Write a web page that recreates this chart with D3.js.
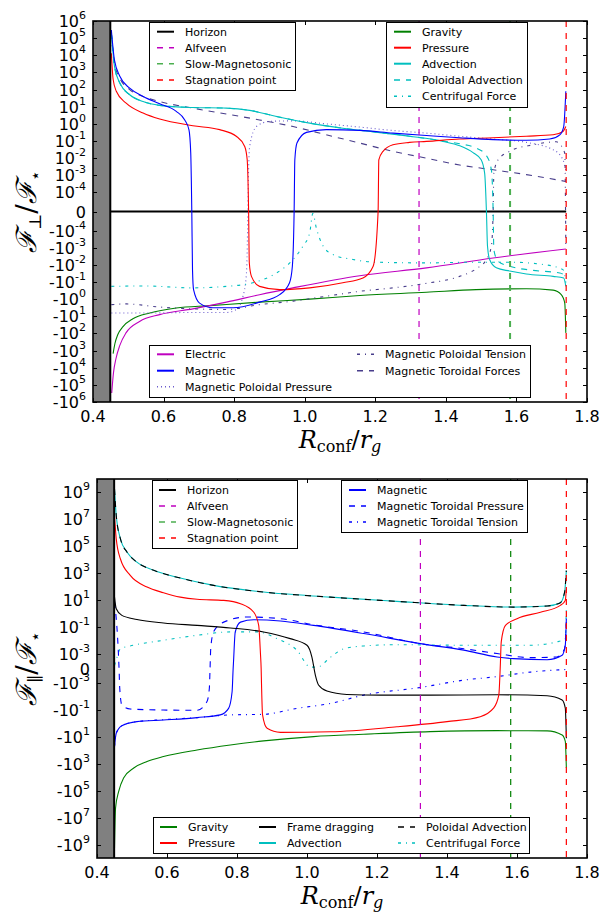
<!DOCTYPE html>
<html>
<head>
<meta charset="utf-8">
<script src="https://cdn.jsdelivr.net/npm/d3@7/dist/d3.min.js"></script>
<style>
  body { margin: 0; background: #fff; }
  svg { display: block; font-family: "DejaVu Sans", sans-serif; }
</style>
</head>
<body>
<svg id="chart" width="605" height="915"></svg>
<script>
const svg = d3.select("#chart");

// ----- Data -----
const xTicks = [0.4, 0.6, 0.8, 1.0, 1.2, 1.4, 1.6, 1.8];
const perpTicks = [1e6, 1e5, 1e4, 1e3, 1e2, 1e1, 1e0, 1e-1, 1e-2, 1e-3, 1e-4, 0,
  -1e-4, -1e-3, -1e-2, -1e-1, -1e0, -1e1, -1e2, -1e3, -1e4, -1e5, -1e6];
const parTicks = [1e9, 1e7, 1e5, 1e3, 1e1, 1e-1, 1e-3, 0, -1e-3, -1e-1, -1e1, -1e3, -1e5, -1e7, -1e9];

const horizonR = 0.449;
const alfvenR = 1.324;
const slowR = 1.582;
const stagnationR = 1.741;

// top panel: perpendicular forces  [R_conf/r_g, F/F*]
const perpZero = [[0.449, 0], [1.741, 0]];
const perpMagnetic = [[0.452, 3e5], [0.461, 5e3], [0.476, 6e2], [0.504, 120], [0.542, 40], [0.589, 15],
  [0.636, 5.4], [0.660, 1.7], [0.672, 0.45], [0.677, 0.02], [0.680, 0], [0.682, -0.019], [0.685, -0.28],
  [0.702, -1.7], [0.740, -3.2], [0.797, -3.2], [0.872, -1.5], [0.929, -0.55], [0.957, -0.11], [0.965, -0.012],
  [0.970, 0], [0.972, 8e-3], [0.978, 0.076], [1.005, 0.32], [1.061, 0.46], [1.156, 0.42], [1.250, 0.29],
  [1.345, 0.21], [1.439, 0.155], [1.534, 0.12], [1.628, 0.11], [1.694, 0.13], [1.723, 0.23], [1.734, 0.7], [1.740, 80]];
const perpPressure = [[0.452, 1.3e4], [0.457, 400], [0.466, 80], [0.494, 16], [0.542, 4.3], [0.589, 1.9],
  [0.683, 0.78], [0.759, 0.46], [0.806, 0.19], [0.830, 0.048], [0.837, 8e-3], [0.841, 0], [0.843, -7.8e-3],
  [0.849, -0.047], [0.872, -0.18], [0.929, -0.28], [1.014, -0.22], [1.108, -0.11], [1.165, -0.058], [1.194, -0.012],
  [1.208, 0], [1.210, 8e-3], [1.222, 0.025], [1.250, 0.06], [1.297, 0.083], [1.345, 0.095], [1.439, 0.13],
  [1.534, 0.155], [1.628, 0.19], [1.704, 0.23], [1.732, 0.36], [1.740, 0.7]];
const perpAdvection = [[0.452, 2e5], [0.461, 2.2e3], [0.476, 240], [0.504, 50], [0.542, 20], [0.589, 12],
  [0.683, 9], [0.778, 8.3], [0.844, 6.1], [0.920, 2.7], [1.014, 1.1], [1.108, 0.56], [1.203, 0.33], [1.297, 0.19],
  [1.392, 0.095], [1.439, 0.053], [1.477, 0.021], [1.500, 8e-3], [1.510, 1.3e-3], [1.515, 0], [1.518, -8e-4],
  [1.524, -4.9e-3], [1.543, -0.015], [1.581, -0.023], [1.628, -0.034], [1.704, -0.047], [1.734, -0.058], [1.740, -0.18]];
const perpPolAdvection = [[0.452, 2e5], [0.461, 2.2e3], [0.476, 240], [0.504, 50], [0.542, 20], [0.589, 12],
  [0.683, 9], [0.778, 8.3], [0.844, 6.1], [0.920, 2.7], [1.014, 1.1], [1.108, 0.56], [1.203, 0.33], [1.297, 0.19],
  [1.392, 0.1], [1.439, 0.069], [1.486, 0.039], [1.515, 0.014], [1.529, 2.1e-3], [1.534, 0], [1.536, -1.3e-3],
  [1.548, -6.2e-3], [1.581, -0.012], [1.647, -0.021], [1.723, -0.03], [1.740, -0.043]];
const perpCentrifugal = [[0.452, -0.18], [0.542, -0.17], [0.683, -0.22], [0.778, -0.18], [0.853, -0.11],
  [0.920, -0.03], [0.967, -4.9e-3], [0.995, -8e-4], [1.014, -1.4e-4], [1.023, -1e-5], [1.033, -8.7e-5],
  [1.052, -8e-4], [1.080, -2.5e-3], [1.137, -4.9e-3], [1.203, -7e-3], [1.345, -7.7e-3], [1.486, -7e-3],
  [1.581, -7e-3], [1.675, -9.5e-3], [1.732, -0.019], [1.740, -0.11]];
const perpGravity = [[0.457, -1.5e3], [0.462, -400], [0.470, -120], [0.485, -40], [0.513, -14], [0.561, -6.4],
  [0.636, -3.3], [0.731, -2.4], [0.872, -1.5], [1.014, -1.0], [1.156, -0.62], [1.345, -0.40], [1.486, -0.28],
  [1.628, -0.25], [1.704, -0.3], [1.727, -0.55], [1.737, -1.7], [1.740, -93]];
const perpElectric = [[0.453, -3e5], [0.458, -2e4], [0.465, -3e3], [0.476, -500], [0.494, -90], [0.532, -20],
  [0.589, -8], [0.683, -3.7], [0.778, -1.5], [0.872, -0.55], [0.967, -0.22], [1.156, -0.043], [1.345, -0.015],
  [1.534, -4e-3], [1.740, -1.2e-3]];
const perpPolPressure = [[0.452, -6.5], [0.542, -6.5], [0.683, -6], [0.778, -6], [0.806, -4.1], [0.825, -0.7],
  [0.835, -0.03], [0.838, -1.3e-4], [0.839, 0], [0.840, 2.2e-4], [0.844, 0.048], [0.863, 0.7], [0.901, 1.4],
  [0.967, 1.5], [1.061, 1.0], [1.156, 0.65], [1.250, 0.41], [1.345, 0.29], [1.439, 0.19], [1.534, 0.13],
  [1.628, 0.083], [1.704, 0.031], [1.732, 8e-3], [1.740, 2e-3]];
const perpPolTension = [[0.452, -2.1], [0.494, -1.9], [0.589, -2.9], [0.683, -3.7], [0.778, -4], [0.872, -2.1],
  [0.967, -1.3], [1.061, -0.68], [1.156, -0.35], [1.250, -0.22], [1.345, -0.12], [1.439, -0.047], [1.486, -0.017],
  [1.515, -4.9e-3], [1.529, -8e-4], [1.534, 0], [1.536, 1.3e-3], [1.548, 8e-3], [1.581, 0.025], [1.647, 0.06],
  [1.713, 0.09], [1.737, 0.02], [1.740, -1e-3]];
const perpToroidal = [[0.452, 2e5], [0.461, 3.2e3], [0.476, 460], [0.504, 100], [0.542, 40], [0.589, 20],
  [0.683, 8.3], [0.872, 1.7], [0.967, 0.7], [1.061, 0.23], [1.156, 0.076], [1.250, 0.025], [1.345, 0.01],
  [1.439, 4e-3], [1.534, 2.1e-3], [1.628, 1.1e-3], [1.740, 4.4e-4]];

// bottom panel: parallel forces
const parAdvection = [[0.450, 1.8e9], [0.455, 1.9e7], [0.467, 3.5e5], [0.486, 3.5e4], [0.514, 6.4e3],
  [0.562, 1.6e3], [0.638, 420], [0.733, 120], [0.876, 38], [1.067, 16], [1.257, 7.7], [1.448, 3.9],
  [1.590, 2.9], [1.686, 3.5], [1.724, 6.2], [1.736, 38], [1.741, 1.5e3]];
const parPolAdvection = [[0.450, 1.8e9], [0.455, 1.9e7], [0.467, 3.5e5], [0.486, 3.5e4], [0.514, 6.4e3],
  [0.562, 1.6e3], [0.638, 420], [0.733, 120], [0.876, 38], [1.067, 16], [1.257, 7.7], [1.448, 3.9],
  [1.590, 2.9], [1.686, 3.5], [1.724, 6.2], [1.736, 38], [1.741, 1.5e3]];
const parPressure = [[0.450, 1.9e7], [0.455, 3.5e5], [0.467, 1.1e4], [0.495, 660], [0.543, 90], [0.590, 34],
  [0.638, 16], [0.686, 11], [0.762, 9.1], [0.810, 5.2], [0.848, 1.2], [0.862, 0.125], [0.867, 1e-3], [0.869, 0],
  [0.870, -1e-3], [0.873, -0.22], [0.886, -2.2], [0.924, -4.4], [1.067, -4], [1.257, -1.7], [1.400, -0.7],
  [1.495, -0.3], [1.533, -0.07], [1.548, -7.4e-3], [1.552, 0], [1.555, 7.4e-3], [1.567, 0.125], [1.600, 0.4],
  [1.667, 1.2], [1.724, 3.9], [1.738, 9.1], [1.741, 68]];
const parFrameDragging = [[0.450, 16], [0.455, 2.2], [0.471, 0.7], [0.514, 0.35], [0.590, 0.19], [0.686, 0.125],
  [0.781, 0.081], [0.876, 0.041], [0.952, 0.013], [1.000, 4.2e-3], [1.014, 7.7e-4], [1.024, -4.6e-4],
  [1.033, -1.3e-3], [1.057, -3.7e-3], [1.114, -6.6e-3], [1.210, -7.4e-3], [1.352, -7.4e-3], [1.543, -7e-3],
  [1.686, -8.3e-3], [1.729, -0.017], [1.738, -0.07], [1.741, -12]];
const parCentrifugal = [[0.450, 2e-4], [0.457, 7.5e-4], [0.467, 2.3e-3], [0.495, 3.7e-3], [0.590, 9.8e-3],
  [0.686, 0.023], [0.781, 0.041], [0.857, 0.041], [0.914, 0.013], [0.971, 1.8e-3], [1.010, 9e-5], [1.029, 9e-5],
  [1.067, 7.5e-4], [1.105, 2.3e-3], [1.162, 3.7e-3], [1.257, 4.6e-3], [1.448, 4.2e-3], [1.638, 4.2e-3],
  [1.714, 7.4e-3], [1.738, 0.013], [1.741, 2.2]];
const parMagnetic = [[0.450, -50], [0.455, -5.1], [0.471, -1.4], [0.514, -0.7], [0.590, -0.53], [0.686, -0.35],
  [0.752, -0.22], [0.776, -0.072], [0.786, -4.2e-3], [0.789, 0], [0.790, 4.3e-4], [0.795, 0.041], [0.810, 0.22],
  [0.848, 0.33], [0.924, 0.27], [1.019, 0.125], [1.162, 0.031], [1.324, 5.5e-3], [1.448, 1.8e-3], [1.543, 7.7e-4],
  [1.590, 6.6e-4], [1.686, 5.9e-4], [1.729, 8.9e-4], [1.738, 4.2e-3], [1.741, 0.4]];
const parTorPressure = [[0.450, 6.9], [0.455, 0.4], [0.461, 1.3e-3], [0.463, 0], [0.465, -2.3e-3], [0.471, -0.041],
  [0.495, -0.081], [0.590, -0.096], [0.686, -0.1], [0.714, -0.023], [0.721, -2.3e-3], [0.723, 0], [0.725, 2.4e-3],
  [0.733, 0.041], [0.762, 0.22], [0.829, 0.53], [0.924, 0.4], [1.019, 0.14], [1.162, 0.041], [1.324, 5.5e-3],
  [1.448, 2.3e-3], [1.543, 1e-3], [1.638, 7.3e-4], [1.714, 7.7e-4], [1.736, 2.3e-3], [1.741, 0.22]];
const parTorTension = [[0.450, -50], [0.455, -5.1], [0.471, -1.4], [0.514, -0.7], [0.590, -0.5], [0.686, -0.35],
  [0.781, -0.22], [0.876, -0.2], [0.971, -0.072], [1.067, -0.031], [1.162, -7.4e-3], [1.324, -2e-3],
  [1.448, -7.8e-4], [1.543, -5.4e-4], [1.638, -2.4e-4], [1.741, -6.5e-5]];
const parGravity = [[0.450, -1.8e9], [0.453, -1.9e6], [0.462, -1.1e5], [0.476, -1.1e4], [0.505, -2e3],
  [0.543, -660], [0.590, -280], [0.686, -90], [0.781, -38], [0.876, -19], [1.019, -9.1], [1.162, -6.1],
  [1.352, -3.9], [1.543, -3.3], [1.686, -3.4], [1.729, -6.9], [1.738, -21], [1.741, -2e3]];

// ----- Styles -----
const DASH = "6,6", DASHDOT = "3,5,1,5", DOT = "1,3";
const st = {
  horizon:   { color: "#000000", dash: null, lw: 2 },
  alfven:    { color: "#bf00bf", dash: DASH, lw: 1.2 },
  slow:      { color: "#008000", dash: DASH, lw: 1.2 },
  stag:      { color: "#ff0000", dash: DASH, lw: 1.2 },
  gravity:   { color: "#008000", dash: null, lw: 1.1 },
  pressure:  { color: "#ff0000", dash: null, lw: 1.1 },
  advection: { color: "#00bfbf", dash: null, lw: 1.1 },
  polAdvC:   { color: "#00bfbf", dash: DASH, lw: 1.1 },
  polAdvK:   { color: "#000000", dash: DASH, lw: 1.1 },
  centrif:   { color: "#00bfbf", dash: DASHDOT, lw: 1.1 },
  electric:  { color: "#bf00bf", dash: null, lw: 1.1 },
  magnetic:  { color: "#0000ff", dash: null, lw: 1.1 },
  polPress:  { color: "#6a5acd", dash: DOT, lw: 1.1 },
  polTens:   { color: "#483d8b", dash: DASHDOT, lw: 1.1 },
  torForce:  { color: "#483d8b", dash: DASH, lw: 1.1 },
  torPress:  { color: "#0000ff", dash: DASH, lw: 1.1 },
  torTens:   { color: "#0000ff", dash: DASHDOT, lw: 1.1 },
  frame:     { color: "#000000", dash: null, lw: 1.1 },
  zero:      { color: "#000000", dash: null, lw: 2 }
};

// ----- Helpers -----
function symlog(c) {
  // matplotlib-like symlog, linscale = 1
  const L = 1 / (1 - 0.1);
  return v => {
    const a = Math.abs(v);
    return a <= c ? v / c * L : Math.sign(v) * (L + Math.log10(a / c));
  };
}

function tickText(sel, v) {
  if (v === 0) { sel.text("0"); return; }
  const e = Math.round(Math.log10(Math.abs(v)));
  sel.append("tspan").text((v < 0 ? "-" : "") + "10");
  sel.append("tspan").attr("dy", -8).attr("font-size", 11).text(e);
}

function applyStyle(sel, s, lw) {
  sel.attr("fill", "none")
    .attr("stroke", s.color)
    .attr("stroke-width", lw || s.lw)
    .attr("stroke-dasharray", s.dash);
}

function drawLegend(box, cols, rows, entries) {
  const g = svg.append("g");
  g.append("rect")
    .attr("x", box[0]).attr("y", box[1])
    .attr("width", box[2] - box[0]).attr("height", box[3] - box[1])
    .attr("fill", "#fff").attr("stroke", "#000").attr("stroke-width", 1);
  entries.forEach(e => {
    const c = cols[e.col], y = rows[e.row];
    g.append("line")
      .attr("x1", c).attr("x2", c + 17).attr("y1", y).attr("y2", y)
      .call(applyStyle, e.style, e.style.dash ? 1.5 : 2);
    g.append("text")
      .attr("x", c + 28).attr("y", y + 4)
      .attr("font-size", 11).attr("fill", "#000")
      .text(e.label);
  });
}

function drawPanel(p) {
  const g = svg.append("g");
  const x = d3.scaleLinear().domain([0.4, 1.8]).range([p.left, p.right]);
  const T = symlog(p.linthresh);
  const yl = d3.scaleLinear().domain([T(-p.ymax), T(p.ymax)]).range([p.bottom, p.top]);
  const y = v => yl(T(v));

  g.append("clipPath").attr("id", p.id)
    .append("rect")
    .attr("x", p.left).attr("y", p.top)
    .attr("width", p.right - p.left).attr("height", p.bottom - p.top);
  const plot = g.append("g").attr("clip-path", `url(#${p.id})`);

  // region inside the horizon
  plot.append("rect")
    .attr("x", x(0.4)).attr("y", p.top)
    .attr("width", x(horizonR) - x(0.4)).attr("height", p.bottom - p.top)
    .attr("fill", "#808080");

  const line = d3.line().x(d => x(d[0])).y(d => y(d[1])).curve(d3.curveMonotoneX);
  p.series.forEach(s => {
    plot.append("path").datum(s.data).attr("d", line).call(applyStyle, s.style);
  });

  // critical points
  [[horizonR, st.horizon], [alfvenR, st.alfven], [slowR, p.slowStyle], [stagnationR, st.stag]].forEach(([r, s]) => {
    plot.append("line")
      .attr("x1", x(r)).attr("x2", x(r)).attr("y1", p.top).attr("y2", p.bottom)
      .call(applyStyle, s);
  });

  // frame + ticks (inward, all sides)
  const ax = g.append("g").attr("stroke", "#000").attr("stroke-width", 1);
  p.ticks.forEach(v => {
    const yy = Math.round(y(v)) + 0.5;
    ax.append("line").attr("x1", p.left).attr("x2", p.left + 4).attr("y1", yy).attr("y2", yy);
    ax.append("line").attr("x1", p.right - 4).attr("x2", p.right).attr("y1", yy).attr("y2", yy);
    g.append("text")
      .attr("x", p.left - 7).attr("y", y(v) + 6)
      .attr("text-anchor", "end").attr("font-size", 16).attr("fill", "#000")
      .call(tickText, v);
  });
  xTicks.forEach(v => {
    const xx = Math.round(x(v)) + 0.5;
    ax.append("line").attr("x1", xx).attr("x2", xx).attr("y1", p.bottom - 4).attr("y2", p.bottom);
    ax.append("line").attr("x1", xx).attr("x2", xx).attr("y1", p.top).attr("y2", p.top + 4);
    g.append("text")
      .attr("x", x(v)).attr("y", p.bottom + 19.5)
      .attr("text-anchor", "middle").attr("font-size", 16).attr("fill", "#000")
      .text(d3.format(".1f")(v));
  });
  g.append("rect")
    .attr("x", p.left).attr("y", p.top)
    .attr("width", p.right - p.left).attr("height", p.bottom - p.top)
    .attr("fill", "none").attr("stroke", "#000").attr("stroke-width", 1.6);

  // axis labels
  const xl = g.append("text")
    .attr("x", (p.left + p.right) / 2).attr("y", p.bottom + 46)
    .attr("text-anchor", "middle").attr("font-family", "DejaVu Serif").attr("font-size", 24);
  xl.append("tspan").attr("font-style", "italic").text("R");
  xl.append("tspan").attr("font-size", 16).attr("dy", 4).text("conf");
  xl.append("tspan").attr("dy", -4).text("/");
  xl.append("tspan").attr("font-style", "italic").text("r");
  xl.append("tspan").attr("font-style", "italic").attr("font-size", 16).attr("dy", 4).text("g");

  const yt = g.append("text")
    .attr("transform", `translate(36,${(p.top + p.bottom) / 2}) rotate(-90)`)
    .attr("text-anchor", "middle").attr("font-family", "DejaVu Serif").attr("font-size", 28);
  yt.append("tspan").attr("font-style", "italic").text("ℱ");
  yt.append("tspan").attr("font-size", 17).attr("dy", 5).text(p.sub);
  yt.append("tspan").attr("dy", -5).text("/");
  yt.append("tspan").attr("font-style", "italic").text("ℱ");
  yt.append("tspan").attr("font-size", 17).attr("dy", 5).text("⋆");
}

// ----- Top panel -----
drawPanel({
  id: "clipTop", left: 93, right: 587, top: 21, bottom: 402,
  linthresh: 1e-4, ymax: 1e6, ticks: perpTicks, sub: "⊥",
  slowStyle: { color: "#4caf50", dash: DASH, lw: 2 },
  series: [
    { data: perpZero, style: st.zero },
    { data: perpGravity, style: st.gravity },
    { data: perpElectric, style: st.electric },
    { data: perpPolPressure, style: st.polPress },
    { data: perpPolTension, style: st.polTens },
    { data: perpToroidal, style: st.torForce },
    { data: perpCentrifugal, style: st.centrif },
    { data: perpPolAdvection, style: st.polAdvC },
    { data: perpAdvection, style: st.advection },
    { data: perpPressure, style: st.pressure },
    { data: perpMagnetic, style: st.magnetic }
  ]
});

// ----- Bottom panel -----
drawPanel({
  id: "clipBottom", left: 97, right: 587, top: 479, bottom: 858,
  linthresh: 1e-3, ymax: 1e10, ticks: parTicks, sub: "∥",
  slowStyle: st.slow,
  series: [
    { data: parGravity, style: st.gravity },
    { data: parCentrifugal, style: st.centrif },
    { data: parTorTension, style: st.torTens },
    { data: parTorPressure, style: st.torPress },
    { data: parMagnetic, style: st.magnetic },
    { data: parFrameDragging, style: st.frame },
    { data: parPressure, style: st.pressure },
    { data: parAdvection, style: st.advection },
    { data: parPolAdvection, style: st.polAdvK }
  ]
});

// ----- Legends -----
const critEntries = [
  { label: "Horizon", style: st.horizon, col: 0, row: 0 },
  { label: "Alfveen", style: st.alfven, col: 0, row: 1 },
  { label: "Slow-Magnetosonic", style: { color: "#4caf50", dash: DASH }, col: 0, row: 2 },
  { label: "Stagnation point", style: st.stag, col: 0, row: 3 }
];
drawLegend([149.5, 22.5, 295.5, 90.5], [157], [31.7, 47.7, 63.7, 80], critEntries);
drawLegend([386.5, 22.5, 527.5, 107.5], [394], [31.7, 47.7, 63.7, 80, 96.3], [
  { label: "Gravity", style: st.gravity, col: 0, row: 0 },
  { label: "Pressure", style: st.pressure, col: 0, row: 1 },
  { label: "Advection", style: st.advection, col: 0, row: 2 },
  { label: "Poloidal Advection", style: st.polAdvC, col: 0, row: 3 },
  { label: "Centrifugal Force", style: st.centrif, col: 0, row: 4 }
]);
drawLegend([149.5, 345.5, 530.5, 397.5], [157, 357], [354.3, 370.7, 386.7], [
  { label: "Electric", style: st.electric, col: 0, row: 0 },
  { label: "Magnetic", style: st.magnetic, col: 0, row: 1 },
  { label: "Magnetic Poloidal Pressure", style: st.polPress, col: 0, row: 2 },
  { label: "Magnetic Poloidal Tension", style: st.polTens, col: 1, row: 0 },
  { label: "Magnetic Toroidal Forces", style: st.torForce, col: 1, row: 1 }
]);

drawLegend([152.5, 480.5, 297.5, 548.5], [159], [490, 506, 522, 538], critEntries);
drawLegend([341.5, 480.5, 527.5, 532.5], [349], [490, 506, 522], [
  { label: "Magnetic", style: st.magnetic, col: 0, row: 0 },
  { label: "Magnetic Toroidal Pressure", style: st.torPress, col: 0, row: 1 },
  { label: "Magnetic Toroidal Tension", style: st.torTens, col: 0, row: 2 }
]);
drawLegend([153.5, 817.5, 529.5, 853.5], [160, 259, 398], [827, 843], [
  { label: "Gravity", style: st.gravity, col: 0, row: 0 },
  { label: "Pressure", style: st.pressure, col: 0, row: 1 },
  { label: "Frame dragging", style: st.frame, col: 1, row: 0 },
  { label: "Advection", style: st.advection, col: 1, row: 1 },
  { label: "Poloidal Advection", style: st.polAdvK, col: 2, row: 0 },
  { label: "Centrifugal Force", style: st.centrif, col: 2, row: 1 }
]);
</script>
</body>
</html>
